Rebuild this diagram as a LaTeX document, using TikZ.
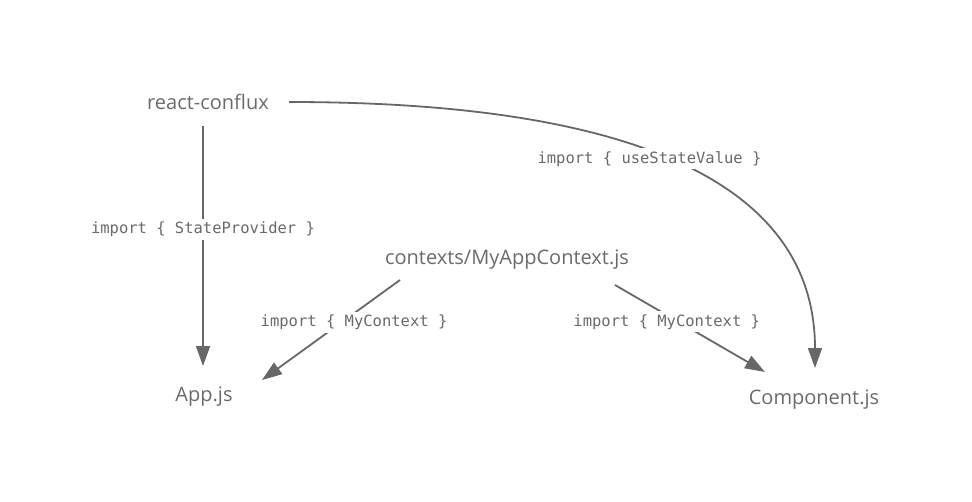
\documentclass[tikz,border=0pt]{standalone}
\usepackage{fontspec}
\setsansfont{Open Sans}
\setmonofont{DejaVu Sans Mono}
\usetikzlibrary{arrows.meta,calc,positioning}
\definecolor{ImportInk}{HTML}{6A6A6A}
\definecolor{ImportLine}{HTML}{676767}
\tikzset{
  every node/.style={text=ImportInk},
  module/.style={font=\sffamily\fontsize{20}{23}\selectfont, inner sep=0pt},
  importlabel/.style={font=\ttfamily\fontsize{15.5}{18}\selectfont, fill=white, inner sep=3pt},
  dependency/.style={-{Triangle[length=20pt,width=14pt]}, draw=ImportLine, line width=1.8pt},
}

\begin{document}
\begin{tikzpicture}[x=1pt, y=-1pt]
  \useasboundingbox (0,0) rectangle (972,501);
  % Modules
  \node[module] (conflux) at (208,102) {react-conflux};
  \node[module] (ctx) at (507,260) {contexts/MyAppContext.js};
  \node[module] (app) at (204,397) {App.js};
  \node[module] (comp) at (814,400) {Component.js};
  % Imports
  \draw[dependency] ([xshift=-5pt, yshift=-24pt]conflux.center) -- node[importlabel, pos=0.43] (stateprov) {import \{ StateProvider \}} ([xshift=-1pt, yshift=31pt]app.center);
  \draw[dependency] ([xshift=81pt]conflux.center) to[out=0, in=90] node[importlabel, pos=0.53, xshift=-7pt, yshift=-3pt] (usestate) {import \{ useStateValue \}} ([xshift=1pt, yshift=32pt]comp.center);
  \draw[dependency] ([xshift=-107pt, yshift=-20pt]ctx.center) -- node[importlabel, pos=0.42, xshift=12pt] (ctxleft) {import \{ MyContext \}} ([xshift=58pt, yshift=17pt]app.center);
  \draw[dependency] ([xshift=108pt, yshift=-25pt]ctx.center) -- node[importlabel, pos=0.425, xshift=-12pt] (ctxright) {import \{ MyContext \}} ([xshift=-49pt, yshift=28pt]comp.center);
\end{tikzpicture}
\end{document}
